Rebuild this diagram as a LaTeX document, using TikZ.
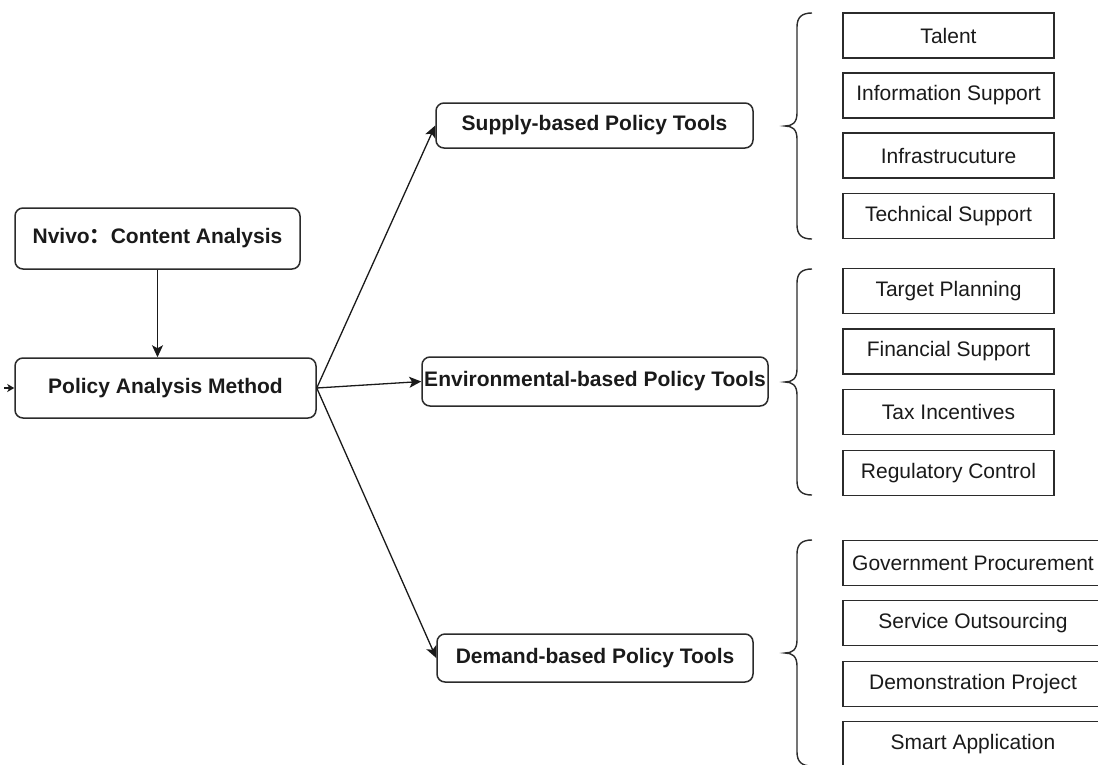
\documentclass[tikz,border=0pt]{standalone}
\usepackage{fontspec}
\setmainfont{Liberation Sans}
\newfontfamily\cjk{Noto Sans CJK SC}
\usetikzlibrary{arrows.meta,calc}

\definecolor{ink}{HTML}{1A1A1A}
\definecolor{edge}{HTML}{2B2B2B}

\tikzset{
  base/.style={draw=edge, line width=1.5pt, text=ink, inner sep=0pt, align=center},
  roundbox/.style={base, rounded corners=8pt, font=\fontsize{21}{25}\selectfont\bfseries},
  itembox/.style={base, font=\fontsize{21}{25}\selectfont,
    minimum width=211pt, minimum height=45pt},
  wideitem/.style={itembox, minimum width=260pt},
  link/.style={draw=ink, line width=1.3pt, -{Stealth[length=12pt,width=11pt,inset=3pt]}},
  stublink/.style={draw=ink, line width=1.3pt, -{Stealth[length=7pt,width=8pt,inset=2pt]}},
  bracestroke/.style={draw=edge, line width=1.4pt},
}

% curly brace: #1 tip x, #2 top y, #3 bottom y
\newcommand\policybrace[3]{%
  \pgfmathsetmacro\bmid{(#2+#3)/2}%
  \draw[bracestroke]
    ({#1+27},{#2}) .. controls ({#1+17},{#2}) and ({#1+12},{#2+4}) .. ({#1+12},{#2+14})
    -- ({#1+12},{\bmid-13})
    .. controls ({#1+12},{\bmid-3}) and ({#1+7},{\bmid}) .. ({#1},{\bmid})
    .. controls ({#1+7},{\bmid}) and ({#1+12},{\bmid+3}) .. ({#1+12},{\bmid+13})
    -- ({#1+12},{#3-14})
    .. controls ({#1+12},{#3-4}) and ({#1+17},{#3}) .. ({#1+27},{#3});%
}

\begin{document}
\begin{tikzpicture}[x=1pt,y=-1pt]
\useasboundingbox (0,0) rectangle (1098,764);
\clip (0,0) rectangle (1098,764);

% left column
\node[roundbox, minimum width=285pt, minimum height=61pt] (nvivo) at (157.5,238.5)
  {Nvivo{\cjk\bfseries ：}Content Analysis};
\node[roundbox, minimum width=301pt, minimum height=60pt] (pam) at (165.5,388)
  {Policy Analysis Method};
\coordinate (stub) at (4,388);

% policy tool categories
\node[roundbox, minimum width=317pt, minimum height=45pt] (supply) at (594.5,125.5)
  {Supply-based Policy Tools};
\node[roundbox, minimum width=346pt, minimum height=49pt] (env) at (595,381.5)
  {Environmental-based Policy Tools};
\node[roundbox, minimum width=316pt, minimum height=48pt] (demand) at (595,658)
  {Demand-based Policy Tools};

% connectors
\draw[link] (nvivo.south) -- (nvivo.south |- pam.north);
\draw[stublink] (stub) -- (pam.west);
\draw[link] (pam.east) -- (supply.west);
\draw[link] (pam.east) -- (env.west);
\draw[link] (pam.east) -- (demand.west);

% supply-based tools
\policybrace{785}{13}{239}
\node[itembox] (talent) at (948.5,35.5) {Talent};
\node[itembox] (info) at (948.5,95.5) {Information Support};
\node[itembox] (infra) at (948.5,155.5) {Infrastrucuture};
\node[itembox] (tech) at (948.5,216) {Technical Support};

% environmental-based tools
\policybrace{785}{269}{495}
\node[itembox] (target) at (948.5,291) {Target Planning};
\node[itembox] (finance) at (948.5,351.5) {Financial Support};
\node[itembox] (tax) at (948.5,412) {Tax Incentives};
\node[itembox] (regul) at (948.5,473) {Regulatory Control};

% demand-based tools
\policybrace{785}{540}{766}
\node[wideitem] (gov) at (973,563) {Government Procurement};
\node[wideitem] (service) at (973,623) {Service Outsourcing};
\node[wideitem] (demo) at (973,684) {Demonstration Project};
\node[wideitem] (smart) at (973,744) {Smart Application};
\end{tikzpicture}
\end{document}
